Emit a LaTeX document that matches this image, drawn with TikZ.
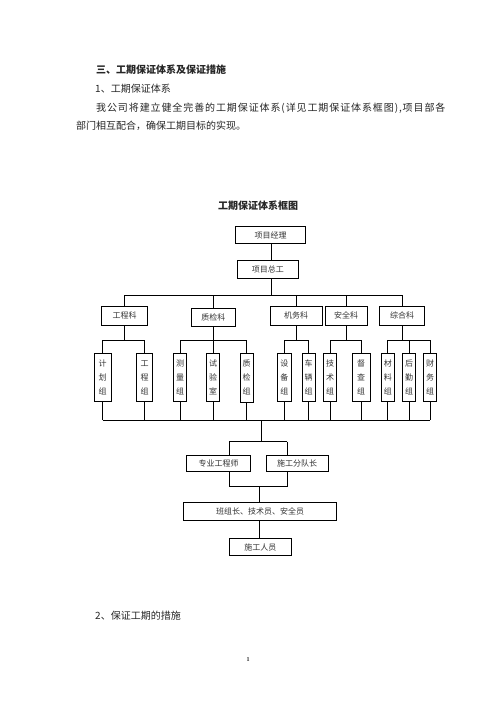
\documentclass[tikz,border=0pt]{standalone}
\usepackage{fontspec}
\setmainfont{Liberation Serif}
\newfontfamily\cjk{Noto Sans CJK SC}
\begin{document}
\begin{tikzpicture}[x=1pt,y=-1pt,
  ln/.style={line width=0.9pt, draw=black},
  box/.style={draw=black, line width=0.9pt, inner sep=0pt, text=black!80,
    font=\cjk\fontsize{8}{8}\selectfont},
  vbox/.style={box, align=center, minimum height=48.4pt,
    font=\cjk\fontsize{8}{14}\selectfont},
  txt/.style={inner sep=0pt, text=black!85, font=\cjk\fontsize{10}{10}\selectfont}]
\fill[white] (0,0) rectangle (496,702);
\useasboundingbox (0,0) rectangle (496,702);

% ---- page text ----
\node[txt, anchor=west, font=\cjk\bfseries\fontsize{10}{10}\selectfont] (h1) at (96,70) {三、工期保证体系及保证措施};
\node[txt, anchor=west] (h2) at (95,88.3) {1、工期保证体系};
\node[txt, anchor=west, font=\cjk\addfontfeature{LetterSpace=9}\fontsize{10}{10}\selectfont] (p1) at (96,108.3) {我公司将建立健全完善的工期保证体系(详见工期保证体系框图),项目部各};
\node[txt, anchor=west] (p2) at (76,126) {部门相互配合，确保工期目标的实现。};
\node[txt, font=\cjk\bfseries\fontsize{10}{10}\selectfont] (title) at (258,206) {工期保证体系框图};
\node[txt, anchor=west] (h3) at (95,616) {2、保证工期的措施};
\node[txt, font=\bfseries\fontsize{6}{6}\selectfont] (pg) at (248,660) {1};

% ---- top ----
\node[box, minimum width=70pt, minimum height=16.6pt] (pm) at (270.7,235) {项目经理};
\node[box, minimum width=61pt, minimum height=17.6pt] (zg) at (267.8,269.5) {项目总工};

% ---- departments ----
\node[box, minimum width=46pt, minimum height=18.3pt] (gck) at (124.7,315.9) {工程科};
\node[box, minimum width=44.7pt, minimum height=18.7pt] (zjk) at (213.4,317.4) {质检科};
\node[box, minimum width=52.3pt, minimum height=19pt] (jwk) at (296.2,315.8) {机务科};
\node[box, minimum width=42.3pt, minimum height=19pt] (aqk) at (346.2,315.8) {安全科};
\node[box, minimum width=45pt, minimum height=18.3pt] (zhk) at (402,315.9) {综合科};

% ---- groups ----
\node[vbox, minimum width=17pt] (g1) at (102.5,377.5) {计\\划\\组};
\node[vbox, minimum width=16.2pt] (g2) at (144.6,377.5) {工\\程\\组};
\node[vbox, minimum width=13.4pt] (g3) at (180,377.5) {测\\量\\组};
\node[vbox, minimum width=12.6pt] (g4) at (213,377.5) {试\\验\\室};
\node[vbox, minimum width=13.3pt] (g5) at (246.7,377.8) {质\\检\\组};
\node[vbox, minimum width=13.3pt] (g6) at (284.3,377.5) {设\\备\\组};
\node[vbox, minimum width=12.7pt] (g7) at (308.7,377.5) {车\\辆\\组};
\node[vbox, minimum width=13.4pt] (g8) at (330,377.5) {技\\术\\组};
\node[vbox, minimum width=17.7pt] (g9) at (361.1,377.5) {督\\查\\组};
\node[vbox, minimum width=12.5pt] (g10) at (387.8,377.5) {材\\料\\组};
\node[vbox, minimum width=13.2pt] (g11) at (409.1,377.5) {后\\勤\\组};
\node[vbox, minimum width=13.4pt] (g12) at (430,377.5) {财\\务\\组};

% ---- lower ----
\node[box, minimum width=64pt, minimum height=16.7pt] (zy) at (218.7,463.3) {专业工程师};
\node[box, minimum width=62.3pt, minimum height=16.7pt] (sg) at (297.2,463.3) {施工分队长};
\node[box, minimum width=153.4pt, minimum height=17.7pt] (bz) at (260,511.2) {班组长、技术员、安全员};
\node[box, minimum width=62.7pt, minimum height=17.4pt] (ry) at (260.3,547) {施工人员};

% ---- junction coordinates ----
\coordinate (trunk) at (271.5,295);
\coordinate (busL) at (124.7,295);
\coordinate (busR) at (402,295);
\coordinate (botL) at (102.5,420);
\coordinate (botR) at (430,420);
\coordinate (botC) at (261.7,420);
\coordinate (midC) at (261.7,441.7);
\coordinate (zyT) at (229.3,441.7);
\coordinate (sgT) at (287.3,441.7);
\coordinate (zyB) at (229.3,486.8);
\coordinate (sgB) at (287.3,486.8);
\coordinate (bzT) at (259,486.8);

% top trunk
\draw[ln] (pm.south -| trunk) -- (zg.north -| trunk);
\draw[ln] (zg.south -| trunk) -- (trunk);
\draw[ln] (busL) -- (busR);
\foreach \d in {gck,zjk,jwk,aqk,zhk} \draw[ln] (\d.north) -- (\d.north |- busL);

% sub buses
\draw[ln] (gck.south) -- (gck.south |- 0,340);
\draw[ln] (g1.north |- 0,340) -- (g2.north |- 0,340);
\draw[ln] (zjk.south) -- (zjk.south |- 0,340);
\draw[ln] (g3.north |- 0,340) -- (g5.north |- 0,340);
\draw[ln] (jwk.south) -- (jwk.south |- 0,340);
\draw[ln] (g6.north |- 0,340) -- (g7.north |- 0,340);
\draw[ln] (aqk.south) -- (aqk.south |- 0,340);
\draw[ln] (g8.north |- 0,340) -- (g9.north |- 0,340);
\draw[ln] (zhk.south) -- (zhk.south |- 0,340);
\draw[ln] (g10.north |- 0,340) -- (g12.north |- 0,340);
\foreach \g in {g1,g2,g3,g4,g5,g6,g7,g8,g9,g10,g11,g12} {
  \draw[ln] (\g.north) -- (\g.north |- 0,340);
  \draw[ln] (\g.south) -- (\g.south |- botL);
}
\draw[ln] (botL) -- (botR);

% lower part
\draw[ln] (botC) -- (midC);
\draw[ln] (zyT) -- (sgT);
\draw[ln] (zyT) -- (zyT |- zy.north);
\draw[ln] (sgT) -- (sgT |- sg.north);
\draw[ln] (zyB |- zy.south) -- (zyB);
\draw[ln] (sgB |- sg.south) -- (sgB);
\draw[ln] (zyB) -- (sgB);
\draw[ln] (bzT) -- (bzT |- bz.north);
\draw[ln] (bz.south -| bzT) -- (ry.north -| bzT);
\end{tikzpicture}
\end{document}
